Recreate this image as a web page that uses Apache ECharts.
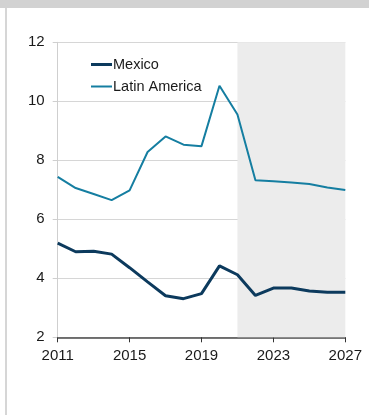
<!DOCTYPE html>
<html>
<head>
<meta charset="utf-8">
<script src="https://cdn.jsdelivr.net/npm/echarts@6/dist/echarts.min.js"></script>
<style>
  html, body { margin: 0; padding: 0; background: #fff; }
  #chart { width: 369px; height: 415px; }
</style>
</head>
<body>
<div id="chart"></div>
<script>
// Unemployment rate, per cent: Mexico vs Latin America (forecast from 2021)
const years = ['2011','2012','2013','2014','2015','2016','2017','2018','2019',
               '2020','2021','2022','2023','2024','2025','2026','2027'];
const mexico = [5.19, 4.90, 4.92, 4.82, 4.36, 3.88, 3.41, 3.31, 3.48,
                4.42, 4.12, 3.42, 3.67, 3.67, 3.57, 3.53, 3.53];
const latinAmerica = [7.44, 7.06, 6.86, 6.65, 6.98, 8.28, 8.81, 8.53, 8.48,
                      10.53, 9.55, 7.32, 7.29, 7.25, 7.20, 7.08, 6.99];
const forecastStart = '2021';
const forecastEnd = '2027';
const yMin = 2, yMax = 12, yStep = 2;

const font = 'Liberation Sans, Arial, sans-serif';
const mexicoColor = '#0c3a5d';
const latamColor = '#157ea1';
const chart = echarts.init(document.getElementById('chart'), null, { renderer: 'canvas' });

chart.setOption({
  animation: false,
  backgroundColor: '#ffffff',
  graphic: [
    { type: 'rect', shape: { x: 0, y: 0, width: 369, height: 8 },
      style: { fill: '#d2d2d2' }, silent: true },
    { type: 'rect', shape: { x: 5, y: 8, width: 2, height: 407 },
      style: { fill: '#d6d6d6' }, silent: true }
  ],
  grid: { left: 57.7, right: 23.7, top: 42.3, bottom: 77.7, containLabel: false },
  legend: {
    orient: 'vertical',
    left: 91,
    top: 57,
    padding: 0,
    itemGap: 7,
    itemWidth: 21,
    itemHeight: 14,
    textStyle: { fontFamily: font, fontSize: 14.5, color: '#1a1a1a', padding: [0, 0, 0, -4] },
    data: [
      { name: 'Mexico', icon: 'path://M0,0H21V3H0Z', itemStyle: { color: mexicoColor } },
      { name: 'Latin America', icon: 'path://M0,0H21V2H0Z', itemStyle: { color: latamColor } }
    ]
  },
  xAxis: {
    type: 'category',
    data: years,
    boundaryGap: false,
    axisLine: { show: true, lineStyle: { color: '#4a4a4a', width: 1.5 } },
    axisTick: { show: true, interval: 3, length: 5, lineStyle: { color: '#333' } },
    axisLabel: { interval: 3, margin: 11, fontFamily: font, fontSize: 15, color: '#1a1a1a' },
    splitLine: { show: false }
  },
  yAxis: {
    type: 'value',
    min: yMin,
    max: yMax,
    interval: yStep,
    axisLine: { show: true, lineStyle: { color: '#cfcfcf', width: 1 } },
    axisTick: { show: true, length: 5, lineStyle: { color: '#cfcfcf' } },
    axisLabel: { margin: 13, fontFamily: font, fontSize: 15, color: '#1a1a1a' },
    splitLine: { show: true, lineStyle: { color: '#d6d6d6', width: 1 } }
  },
  series: [
    {
      name: 'Mexico',
      type: 'line',
      data: mexico,
      symbol: 'none',
      z: 3,
      lineStyle: { color: mexicoColor, width: 3 },
      itemStyle: { color: mexicoColor },
      markArea: {
        silent: true,
        itemStyle: { color: '#ececec' },
        data: [[{ xAxis: forecastStart }, { xAxis: forecastEnd }]]
      }
    },
    {
      name: 'Latin America',
      type: 'line',
      data: latinAmerica,
      symbol: 'none',
      z: 3,
      lineStyle: { color: latamColor, width: 2 },
      itemStyle: { color: latamColor }
    }
  ]
});
</script>
</body>
</html>
